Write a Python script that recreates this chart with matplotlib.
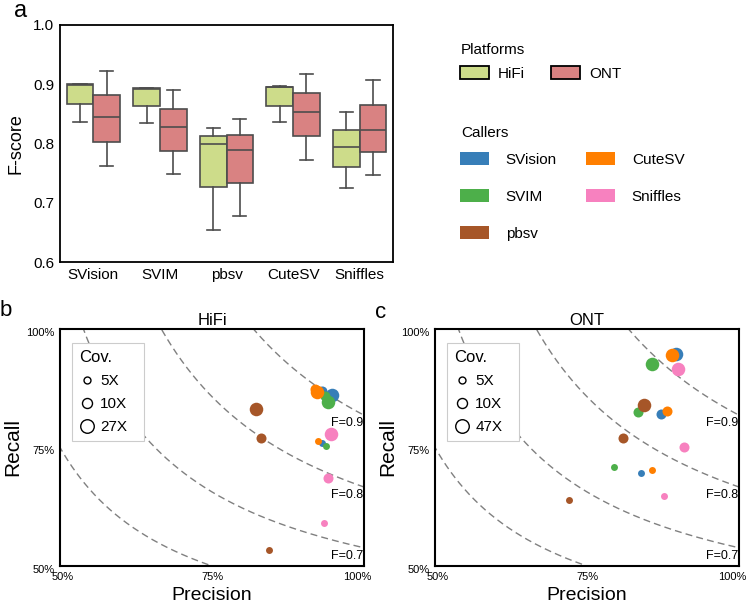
import matplotlib
matplotlib.use('Agg')
import matplotlib.pyplot as plt
import matplotlib.transforms as mtransforms
import numpy as np
from matplotlib.patches import Patch
from matplotlib.lines import Line2D

plt.rcParams['font.family'] = ['Liberation Sans', 'DejaVu Sans']

# ---------------- data ----------------
callers = ['SVision', 'SVIM', 'pbsv', 'CuteSV', 'Sniffles']
platforms = ['HiFi', 'ONT']

# panel a: box summaries (F-score)
hifi_whislo = [0.837, 0.835, 0.654, 0.836, 0.725]
hifi_q1     = [0.867, 0.863, 0.727, 0.864, 0.760]
hifi_med    = [0.899, 0.892, 0.800, 0.895, 0.794]
hifi_q3     = [0.900, 0.893, 0.812, 0.896, 0.823]
hifi_whishi = [0.901, 0.894, 0.826, 0.897, 0.854]

ont_whislo = [0.762, 0.749, 0.677, 0.772, 0.747]
ont_q1     = [0.803, 0.788, 0.733, 0.813, 0.785]
ont_med    = [0.844, 0.828, 0.789, 0.854, 0.823]
ont_q3     = [0.882, 0.859, 0.815, 0.886, 0.865]
ont_whishi = [0.922, 0.890, 0.841, 0.917, 0.907]

# panel b: HiFi precision / recall per caller, coverage 5X, 10X, 27X
hifi_cov = ['5X', '10X', '27X']
hifi_precision = {
    'SVision':  [0.931, 0.931, 0.947],
    'SVIM':     [0.937, 0.936, 0.940],
    'pbsv':     [0.843, 0.830, 0.822],
    'CuteSV':   [0.925, 0.919, 0.923],
    'Sniffles': [0.934, 0.941, 0.946],
}
hifi_recall = {
    'SVision':  [0.759, 0.870, 0.861],
    'SVIM':     [0.753, 0.858, 0.847],
    'pbsv':     [0.534, 0.771, 0.831],
    'CuteSV':   [0.764, 0.873, 0.867],
    'Sniffles': [0.591, 0.685, 0.779],
}

# panel c: ONT precision / recall per caller, coverage 5X, 10X, 47X
ont_cov = ['5X', '10X', '47X']
ont_precision = {
    'SVision':  [0.839, 0.871, 0.897],
    'SVIM':     [0.794, 0.834, 0.857],
    'pbsv':     [0.720, 0.810, 0.843],
    'CuteSV':   [0.857, 0.882, 0.890],
    'Sniffles': [0.877, 0.910, 0.900],
}
ont_recall = {
    'SVision':  [0.697, 0.820, 0.948],
    'SVIM':     [0.709, 0.824, 0.927],
    'pbsv':     [0.640, 0.769, 0.839],
    'CuteSV':   [0.702, 0.828, 0.946],
    'Sniffles': [0.648, 0.752, 0.916],
}

f_levels = [0.6, 0.7, 0.8, 0.9]
f_labels = ['', 'F=0.7', 'F=0.8', 'F=0.9']

# ---------------- styles ----------------
platform_colors = ['#cddc8a', '#d98282']
caller_colors = {'SVision': '#377eb8', 'SVIM': '#4daf4a', 'pbsv': '#a65628',
                 'CuteSV': '#ff7f00', 'Sniffles': '#f781bf'}
cov_sizes = [25, 52, 95]
box_edge = '#4d4d4d'

fig = plt.figure(figsize=(7.5, 6.03), dpi=100)
W, H = 750, 603


def axes_px(x0, y0, x1, y1):
    return fig.add_axes([x0 / W, 1 - y1 / H, (x1 - x0) / W, (y1 - y0) / H])


# ---------------- panel a ----------------
axa = axes_px(60, 25, 393, 262)
series = [
    (hifi_whislo, hifi_q1, hifi_med, hifi_q3, hifi_whishi),
    (ont_whislo, ont_q1, ont_med, ont_q3, ont_whishi),
]
for k, (wlo, q1, med, q3, whi) in enumerate(series):
    stats = []
    for i in range(len(callers)):
        stats.append(dict(whislo=wlo[i], q1=q1[i], med=med[i], q3=q3[i],
                          whishi=whi[i], fliers=[]))
    pos = [i - 0.2 + 0.4 * k for i in range(len(callers))]
    axa.bxp(stats, positions=pos, widths=0.4, patch_artist=True,
            showfliers=False, capwidths=0.2,
            boxprops=dict(facecolor=platform_colors[k], edgecolor=box_edge, linewidth=1.2),
            medianprops=dict(color=box_edge, linewidth=1.2),
            whiskerprops=dict(color=box_edge, linewidth=1.2),
            capprops=dict(color=box_edge, linewidth=1.2))
axa.set_xlim(-0.5, len(callers) - 0.5)
axa.set_ylim(0.6, 1.0)
axa.set_xticks(range(len(callers)))
axa.set_xticklabels(callers, fontsize=11)
axa.set_yticks([0.6, 0.7, 0.8, 0.9, 1.0])
axa.set_yticklabels(['0.6', '0.7', '0.8', '0.9', '1.0'], fontsize=11)
axa.tick_params(length=0, pad=4)
axa.set_ylabel('F-score', fontsize=13, labelpad=6)
for s in axa.spines.values():
    s.set_linewidth(1.3)
    s.set_color('black')

# legends for panel a (titles placed as text, entries as legends)
fig.text(461 / W, 1 - 50 / H, 'Platforms', fontsize=11, ha='left', va='center')
plat_handles = [Patch(facecolor=platform_colors[k], edgecolor='black', linewidth=1.3,
                      label=platforms[k]) for k in range(2)]
fig.legend(handles=plat_handles, loc='upper left',
           bbox_to_anchor=(460 / W, 1 - 66 / H), frameon=False, ncol=2,
           fontsize=11, handlelength=1.9, handleheight=0.95, handletextpad=0.6,
           columnspacing=1.7, borderpad=0, borderaxespad=0)

fig.text(461 / W, 1 - 133 / H, 'Callers', fontsize=11, ha='left', va='center')
caller_handles = [Patch(facecolor=caller_colors[c], edgecolor='none', label=c) for c in callers]
fig.legend(handles=caller_handles, loc='upper left',
           bbox_to_anchor=(460 / W, 1 - 152 / H), frameon=False, ncol=2,
           fontsize=11, handlelength=1.9, handleheight=0.95, handletextpad=1.1,
           columnspacing=1.9, labelspacing=1.45, borderpad=0, borderaxespad=0)


# ---------------- panels b, c ----------------
def pr_panel(ax, title, prec, rec, covs):
    p = np.linspace(0.3, 1.0, 400)
    for f, lab in zip(f_levels, f_labels):
        with np.errstate(divide='ignore', invalid='ignore'):
            r = f * p / (2 * p - f)
        ok = (2 * p - f) > 0
        ax.plot(p[ok], r[ok], ls=(0, (5, 3)), color='#808080', lw=1.0, zorder=1)
        if lab:
            r1 = f / (2 - f)
            ax.text(0.999, r1 - 0.004, lab, ha='right', va='top', fontsize=9, zorder=3)
    for c in ['SVision', 'SVIM', 'pbsv', 'CuteSV', 'Sniffles']:
        for j in range(len(covs)):
            ax.scatter(prec[c][j], rec[c][j], s=cov_sizes[j], color=caller_colors[c],
                       linewidths=0, zorder=2)
    ax.set_xlim(0.5, 1.0)
    ax.set_ylim(0.5, 1.0)
    ax.set_xticks([0.5, 0.75, 1.0])
    ax.set_xticklabels(['50%', '75%', '100%'], fontsize=8)
    ax.set_yticks([0.5, 0.75, 1.0])
    ax.set_yticklabels(['50%', '75%', '100%'], fontsize=8)
    ax.tick_params(length=0, pad=4)
    # keep edge labels inside like the reference
    xl = ax.get_xticklabels()
    xl[0].set_transform(xl[0].get_transform() +
                        mtransforms.ScaledTranslation(3 / 100, 0, fig.dpi_scale_trans))
    xl[-1].set_transform(xl[-1].get_transform() +
                         mtransforms.ScaledTranslation(-7 / 100, 0, fig.dpi_scale_trans))
    for lbl in ax.get_yticklabels():
        lbl.set_transform(lbl.get_transform() +
                          mtransforms.ScaledTranslation(0, -3 / 100, fig.dpi_scale_trans))
    ax.set_xlabel('Precision', fontsize=14, labelpad=4)
    ax.set_ylabel('Recall', fontsize=15, labelpad=3)
    ax.set_title(title, fontsize=12, pad=3)
    for s in ax.spines.values():
        s.set_linewidth(1.5)
        s.set_color('black')
    handles = [Line2D([], [], ls='none', marker='o', markerfacecolor='none',
                      markeredgecolor='black', markeredgewidth=1.0,
                      markersize=np.sqrt(cov_sizes[j]), label=covs[j])
               for j in range(len(covs))]
    lg = ax.legend(handles=handles, title='Cov.', loc='upper left',
                   bbox_to_anchor=(0.0395, 0.941 - 0.41, 0.237, 0.41), mode='expand',
                   borderaxespad=0, fontsize=11,
                   title_fontsize=12, alignment='left', handlelength=1.05,
                   handletextpad=0.35, labelspacing=0.6, borderpad=0.45,
                   fancybox=False, edgecolor='#cccccc', framealpha=1)
    lg.get_frame().set_linewidth(0.8)


axb = axes_px(60, 329, 364, 566)
pr_panel(axb, 'HiFi', hifi_precision, hifi_recall, hifi_cov)
axc = axes_px(435, 329, 739, 566)
pr_panel(axc, 'ONT', ont_precision, ont_recall, ont_cov)

# panel letters
fig.text(14 / W, 1 - 17 / H, 'a', fontsize=17, ha='left', va='baseline')
fig.text(0 / W, 1 - 316 / H, 'b', fontsize=16, ha='left', va='baseline')
fig.text(375 / W, 1 - 318 / H, 'c', fontsize=16, ha='left', va='baseline')

fig.savefig('out.png', dpi=100)
